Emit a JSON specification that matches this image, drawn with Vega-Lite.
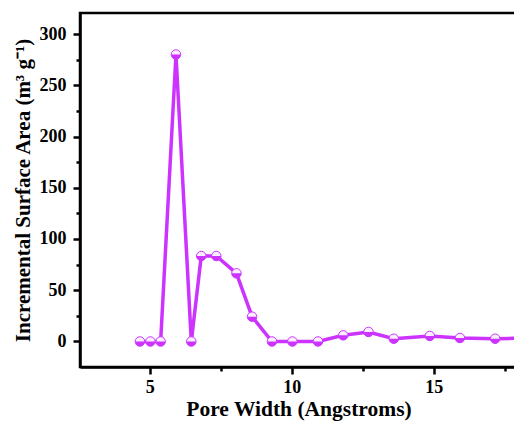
{
  "$schema": "https://vega.github.io/schema/vega-lite/v6.json",
  "autosize": "none",
  "width": 437,
  "height": 354,
  "padding": {"left": 80, "top": 13, "right": 0, "bottom": 54},
  "background": "white",
  "config": {
    "view": {"stroke": "black", "strokeWidth": 2.5},
    "font": "Liberation Serif",
    "axis": {
      "domainColor": "black", "domainWidth": 2.5, "tickColor": "black", "tickWidth": 2.5,
      "labelFont": "Liberation Serif", "labelFontWeight": "bold", "labelFontSize": 18, "labelColor": "black",
      "titleFont": "Liberation Serif", "titleFontWeight": "bold", "titleColor": "black",
      "grid": false
    }
  },
  "data": {
    "values": [
      {"w": 4.65, "a": 0},
      {"w": 5.02, "a": 0},
      {"w": 5.38, "a": 0},
      {"w": 5.92, "a": 280},
      {"w": 6.46, "a": 0},
      {"w": 6.81, "a": 83.4},
      {"w": 7.34, "a": 83.4},
      {"w": 8.05, "a": 66.5},
      {"w": 8.6, "a": 24.2},
      {"w": 9.3, "a": 0},
      {"w": 10.02, "a": 0},
      {"w": 10.92, "a": 0},
      {"w": 11.81, "a": 6},
      {"w": 12.7, "a": 9.3},
      {"w": 13.59, "a": 2.7},
      {"w": 14.86, "a": 5.4},
      {"w": 15.92, "a": 3.4},
      {"w": 17.16, "a": 2.7},
      {"w": 18.3, "a": 3.4}
    ]
  },
  "encoding": {
    "x": {
      "field": "w", "type": "quantitative",
      "scale": {"domain": [2.54, 17.93], "nice": false, "zero": false},
      "axis": {
        "title": "Pore Width (Angstroms)",
        "titleFontSize": 21.5,
        "values": [2.5, 5, 7.5, 10, 12.5, 15, 17.5],
        "labelExpr": "datum.value % 5 === 0 ? datum.label : ''",
        "tickSize": {"condition": {"test": "datum.value % 5 === 0", "value": 7}, "value": 4},
        "labelPadding": 4,
        "titlePadding": 2
      }
    },
    "y": {
      "field": "a", "type": "quantitative",
      "scale": {"domain": [-24.9, 320.5], "nice": false, "zero": false},
      "axis": {
        "title": "Incremental Surface Area (m³ g⁻¹)",
        "titleFontSize": 21,
        "values": [0, 25, 50, 75, 100, 125, 150, 175, 200, 225, 250, 275, 300],
        "labelExpr": "datum.value % 50 === 0 ? datum.label : ''",
        "tickSize": {"condition": {"test": "datum.value % 50 === 0", "value": 7}, "value": 4},
        "labelPadding": 7,
        "titlePadding": 6
      }
    }
  },
  "layer": [
    {"mark": {"type": "line", "color": "#CC33FF", "strokeWidth": 3.5, "clip": true}},
    {"mark": {"type": "point", "shape": "circle", "filled": true, "fill": "#FAEEFF", "stroke": "#CC33FF", "strokeWidth": 1, "size": 90, "opacity": 1, "clip": true}},
    {"mark": {"type": "point", "shape": "M -1 0 A 1 1 0 0 0 1 0 Z", "filled": true, "fill": "#CC33FF", "strokeWidth": 0, "size": 90, "opacity": 1, "clip": true}}
  ]
}
